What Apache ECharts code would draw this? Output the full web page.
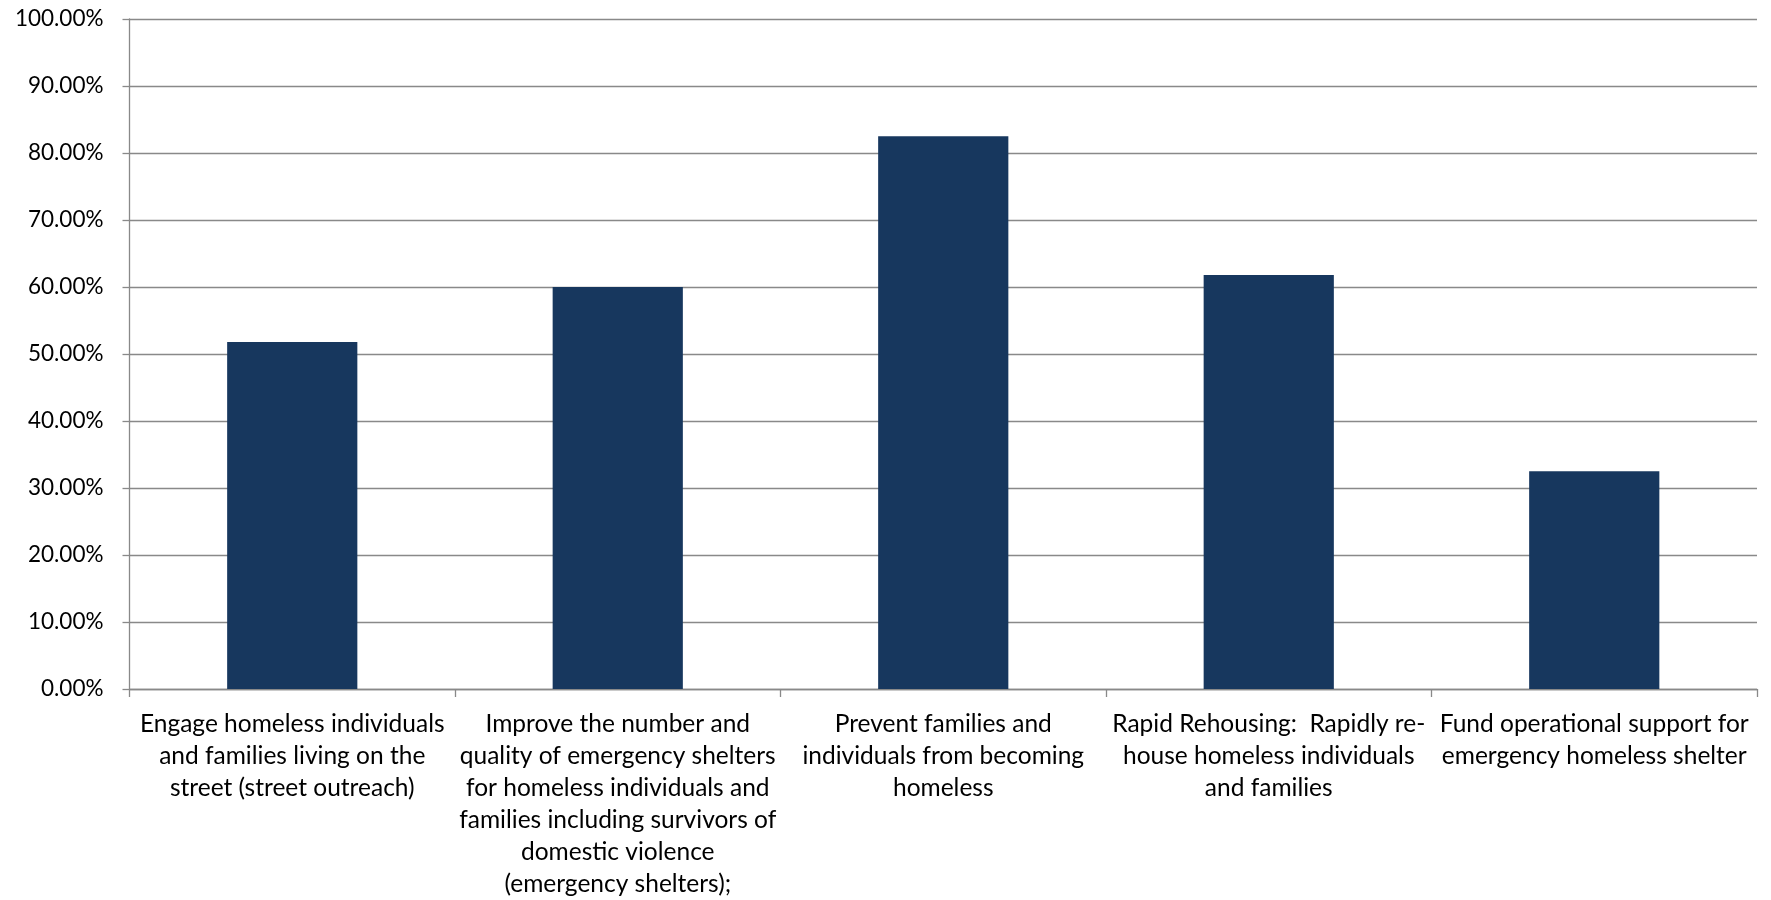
<!DOCTYPE html>
<html>
<head>
<meta charset="utf-8">
<title>Homeless assistance priorities</title>
<script src="https://cdn.jsdelivr.net/npm/echarts@6/dist/echarts.min.js"></script>
<style>
  html, body { margin: 0; padding: 0; background: #ffffff; }
  #chart { width: 1771px; height: 900px; }
</style>
</head>
<body>
<div id="chart"></div>
<script>
// Activity categories (line breaks as they wrap under each bar)
const categories = [
  'Engage homeless individuals\nand families living on the\nstreet (street outreach)',
  'Improve the number and\nquality of emergency shelters\nfor homeless individuals and\nfamilies including survivors of\ndomestic violence\n(emergency shelters);',
  'Prevent families and\nindividuals from becoming\nhomeless',
  'Rapid Rehousing:  Rapidly re-\nhouse homeless individuals\nand families',
  'Fund operational support for\nemergency homeless shelter'
];

// Share of respondents, in percent
const values = [51.8, 60.0, 82.5, 61.8, 32.5];

// Value axis range
const yMin = 0;
const yMax = 100;
const yStep = 10;

const FONT = 'Lato, "Open Sans", sans-serif';
const GRID_GREY = '#898989';

const chart = echarts.init(document.getElementById('chart'), null, { renderer: 'canvas' });

chart.setOption({
  backgroundColor: '#ffffff',
  animation: false,
  grid: { left: 129.5, right: 14, top: 19, bottom: 211, containLabel: false },
  xAxis: {
    type: 'category',
    data: categories,
    boundaryGap: true,
    axisLine: { show: true, lineStyle: { color: GRID_GREY, width: 1.3 } },
    axisTick: { show: true, length: 8, lineStyle: { color: GRID_GREY, width: 1.3 } },
    axisLabel: {
      interval: 0,
      margin: 19,
      color: '#000000',
      fontFamily: FONT,
      fontSize: 24.5,
      lineHeight: 32,
      align: 'center'
    },
    splitLine: { show: false }
  },
  yAxis: {
    type: 'value',
    min: yMin,
    max: yMax,
    interval: yStep,
    axisLine: { show: true, lineStyle: { color: GRID_GREY, width: 1.3 } },
    axisTick: { show: true, length: 7, lineStyle: { color: GRID_GREY, width: 1.3 } },
    axisLabel: {
      margin: 26,
      color: '#000000',
      fontFamily: FONT,
      fontSize: 22.5,
      formatter: v => v.toFixed(2) + '%'
    },
    splitLine: { show: true, lineStyle: { color: GRID_GREY, width: 1.3 } }
  },
  series: [{
    type: 'bar',
    data: values,
    barWidth: '40%',
    itemStyle: { color: '#17375E' }
  }]
});
</script>
</body>
</html>
